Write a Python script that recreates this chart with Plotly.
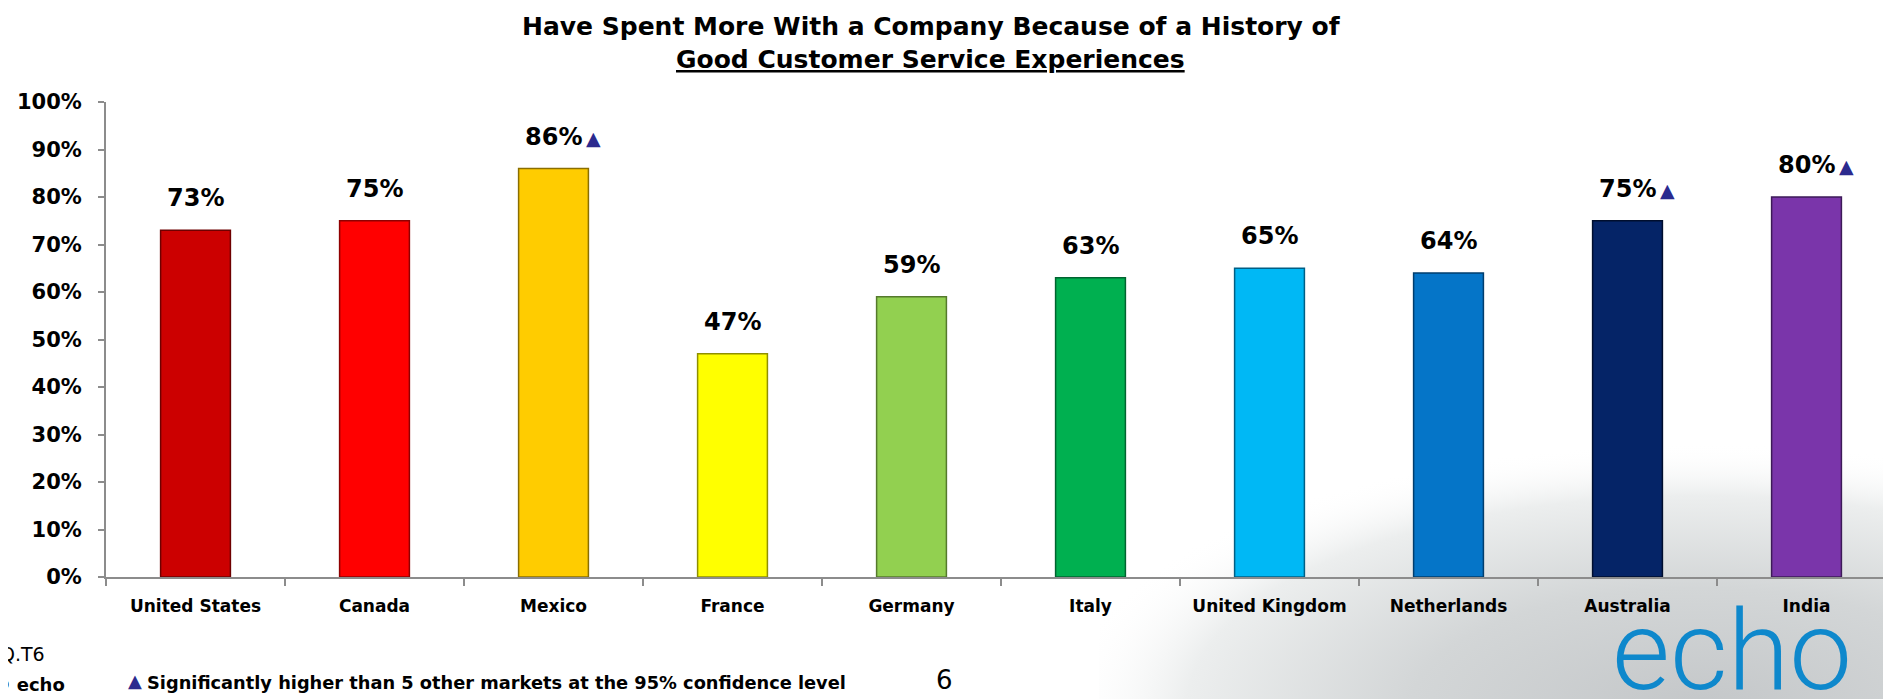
import base64
import plotly.graph_objects as go

# ---------------- data ----------------
categories = ["United States", "Canada", "Mexico", "France", "Germany",
              "Italy", "United Kingdom", "Netherlands", "Australia", "India"]
values = [73, 75, 86, 47, 59, 63, 65, 64, 75, 80]
significant = [False, False, True, False, False, False, False, False, True, True]
bar_colors = ["#CC0000", "#FF0000", "#FFCC00", "#FFFF00", "#92D050",
              "#00B050", "#00B8F5", "#0575C8", "#052467", "#7A35AA"]
edge_colors = ["#6E0000", "#8F0000", "#8A6E00", "#8F8F00", "#557A2C",
               "#006430", "#005F85", "#003E6E", "#000E2E", "#3D1A58"]
y_tick_values = [0, 10, 20, 30, 40, 50, 60, 70, 80, 90, 100]
y_tick_labels = [f"{v}%" for v in y_tick_values]

title_line1 = "Have Spent More With a Company Because of a History of"
title_line2 = "Good Customer Service Experiences"
legend_note = "Significantly higher than 5 other markets at the 95% confidence level"

FONT = "DejaVu Sans"
W, H = 1891, 699
ML, MR, MT, MB = 98, 3, 94, 130
PW = W - ML - MR
PH = H - MT - MB


def px_x(px):
    return (px - ML) / PW


def px_y(py):
    return (H - MB - py) / PH


fig = go.Figure()
fig.add_bar(
    x=categories,
    y=values,
    width=0.39,
    marker=dict(color=bar_colors, line=dict(color=edge_colors, width=1.5)),
    hoverinfo="skip",
)

annotations = []
# value labels and significance triangles
for cat, val, sig in zip(categories, values, significant):
    annotations.append(dict(
        x=cat, y=val, xref="x", yref="y", text=f"{val}%", showarrow=False,
        xanchor="center", yanchor="middle", yshift=32,
        font=dict(family=FONT, size=24, color="black", weight="bold")))
    if sig:
        annotations.append(dict(
            x=cat, y=val, xref="x", yref="y", text="▲", showarrow=False,
            xanchor="center", yanchor="middle", xshift=40, yshift=31,
            font=dict(family=FONT, size=19, color="#2B2A8E")))

# title
annotations.append(dict(x=px_x(923), y=px_y(19), xref="paper", yref="paper",
                        text=title_line1, showarrow=False, xanchor="center", yanchor="middle",
                        font=dict(family=FONT, size=25, color="black", weight="bold")))
annotations.append(dict(x=px_x(922), y=px_y(52), xref="paper", yref="paper",
                        text=f"<u>{title_line2}</u>", showarrow=False, xanchor="center", yanchor="middle",
                        font=dict(family=FONT, size=25, color="black", weight="bold")))
# footnotes
annotations.append(dict(x=px_x(-10), y=px_y(646), xref="paper", yref="paper",
                        text="Q.T6", showarrow=False, xanchor="left", yanchor="middle",
                        font=dict(family=FONT, size=19, color="black")))
annotations.append(dict(x=px_x(-17), y=px_y(676), xref="paper", yref="paper",
                        text="© <b>echo</b>", showarrow=False, xanchor="left", yanchor="middle",
                        font=dict(family=FONT, size=18, color="black")))
annotations.append(dict(x=px_x(127), y=px_y(672), xref="paper", yref="paper",
                        text="▲", showarrow=False, xanchor="center", yanchor="middle",
                        font=dict(family=FONT, size=18, color="#2B2A8E")))
annotations.append(dict(x=px_x(137), y=px_y(674), xref="paper", yref="paper",
                        text=legend_note, showarrow=False, xanchor="left", yanchor="middle",
                        font=dict(family=FONT, size=17.8, color="black", weight="bold")))
annotations.append(dict(x=px_x(936), y=px_y(672), xref="paper", yref="paper",
                        text="6", showarrow=False, xanchor="center", yanchor="middle",
                        font=dict(family=FONT, size=26, color="black")))
# echo logo
annotations.append(dict(x=px_x(1724), y=px_y(642), xref="paper", yref="paper",
                        text="echo", showarrow=False, xanchor="center", yanchor="middle",
                        font=dict(family="Roboto", size=112, color="#0E88CC", weight=300)))

# soft grey background in the lower right corner
svg = ('<svg xmlns="http://www.w3.org/2000/svg" width="800" height="330" preserveAspectRatio="none">'
       '<defs><radialGradient id="g" cx="0.75" cy="1.0" r="0.8">'
       '<stop offset="0" stop-color="#c4c7c9"/>'
       '<stop offset="0.45" stop-color="#d3d6d7"/>'
       '<stop offset="0.8" stop-color="#eceeee"/>'
       '<stop offset="1" stop-color="#ffffff" stop-opacity="0"/>'
       '</radialGradient></defs>'
       '<rect width="800" height="330" fill="url(#g)"/></svg>')
svg_uri = "data:image/svg+xml;base64," + base64.b64encode(svg.encode()).decode()

fig.update_layout(
    width=W, height=H,
    margin=dict(l=ML, r=MR, t=MT, b=MB, pad=0),
    paper_bgcolor="white",
    plot_bgcolor="rgba(0,0,0,0)",
    showlegend=False,
    annotations=annotations,
    images=[dict(source=svg_uri, xref="paper", yref="paper",
                 x=px_x(1091), y=px_y(369), sizex=(W - 1091) / PW, sizey=(H - 369) / PH,
                 xanchor="left", yanchor="top", sizing="stretch", layer="below")],
    xaxis=dict(
        type="category", range=[-0.5, 9.5], tickson="boundaries",
        ticks="outside", ticklen=7, tickcolor="#8C8C8C", tickwidth=2,
        showline=True, linecolor="#8C8C8C", linewidth=2, showgrid=False,
        tickfont=dict(family=FONT, size=17, color="black", weight="bold"),
        ticklabelstandoff=13,
    ),
    yaxis=dict(
        range=[0, 100], tickvals=y_tick_values, ticktext=y_tick_labels,
        ticks="outside", ticklen=6, tickcolor="#8C8C8C", tickwidth=2,
        showline=True, linecolor="#8C8C8C", linewidth=2, showgrid=False, zeroline=False,
        tickfont=dict(family=FONT, size=21, color="black", weight="bold"),
        ticklabelstandoff=12,
    ),
)

fig.write_html("out.html")
